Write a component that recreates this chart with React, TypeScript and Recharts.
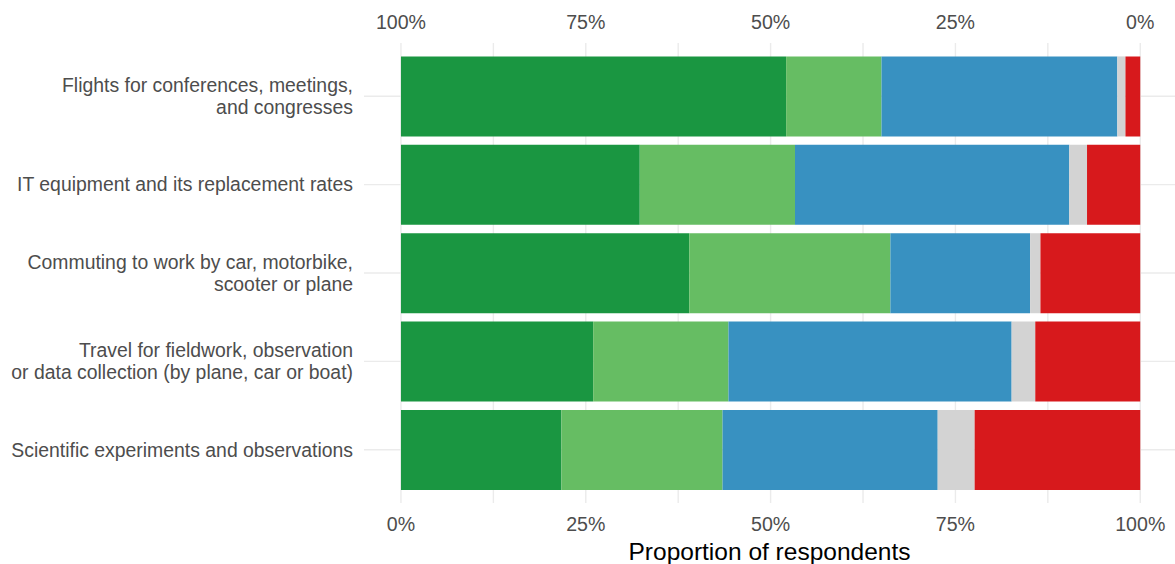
import { BarChart, Bar, XAxis, YAxis, CartesianGrid } from 'recharts';

const categories = [
  'Flights for conferences, meetings,\nand congresses',
  'IT equipment and its replacement rates',
  'Commuting to work by car, motorbike,\nscooter or plane',
  'Travel for fieldwork, observation\nor data collection (by plane, car or boat)',
  'Scientific experiments and observations',
];

// shares per response level, left to right in each bar
const level1 = [0.521, 0.323, 0.39, 0.26, 0.217];
const level2 = [0.129, 0.21, 0.272, 0.183, 0.218];
const level3 = [0.319, 0.371, 0.189, 0.383, 0.291];
const level4 = [0.011, 0.024, 0.014, 0.032, 0.05];
const level5 = [0.02, 0.072, 0.135, 0.142, 0.224];

const bottomTicks = [0, 0.125, 0.25, 0.375, 0.5, 0.625, 0.75, 0.875, 1];
const topTicks = [0, 0.25, 0.5, 0.75, 1];

const colors = ['#1a9641', '#66bd63', '#3891c1', '#d3d3d3', '#d7191c'];

const data = categories.map((name, i) => ({
  name,
  level1: level1[i],
  level2: level2[i],
  level3: level3[i],
  level4: level4[i],
  level5: level5[i],
}));

const FONT = '"Liberation Sans", Arial, sans-serif';
const pct = (v: number) => `${Math.round(v * 100)}%`;

const CategoryTick = ({ x, y, payload }: any) => {
  const lines = String(payload.value).split('\n');
  const lh = 22;
  const start = -((lines.length - 1) * lh) / 2;
  return (
    <text x={x} y={y} textAnchor="end" fill="#4d4d4d" fontSize={19.4} fontFamily={FONT}>
      {lines.map((l, i) => (
        <tspan key={i} x={x} dy={i === 0 ? start + 6.8 : lh}>
          {l}
        </tspan>
      ))}
    </text>
  );
};

const BottomTick = ({ x, y, payload }: any) => {
  const v = payload.value;
  if (Math.abs((v * 4) % 1) > 1e-6) return null;
  return (
    <text x={x} y={y} dy={28} textAnchor="middle" fill="#4d4d4d" fontSize={19.6} fontFamily={FONT}>
      {pct(v)}
    </text>
  );
};

// top axis is reversed, so 100% sits over the left end of the bars
const TopTick = ({ x, y, payload }: any) => (
  <text x={x} y={y} dy={-14} textAnchor="middle" fill="#4d4d4d" fontSize={19.6} fontFamily={FONT}>
    {pct(payload.value)}
  </text>
);

export default function App() {
  return (
    <div style={{ position: 'absolute', left: 0, top: 0, background: '#fff' }}>
      <BarChart
        width={1175}
        height={564}
        data={data}
        layout="vertical"
        barCategoryGap="5%"
        margin={{ top: 0, right: 0, bottom: 0, left: 0 }}
        style={{ fontFamily: FONT }}
      >
        <CartesianGrid xAxisId="bottom" stroke="#ebebeb" strokeWidth={1.4} syncWithTicks />
        <XAxis
          xAxisId="top"
          orientation="top"
          type="number"
          domain={[-0.047, 1.05]}
          ticks={topTicks}
          allowDataOverflow
          reversed
          height={43}
          axisLine={false}
          tickLine={false}
          tickSize={0}
          tickMargin={0}
          tick={<TopTick />}
        />
        <XAxis
          xAxisId="bottom"
          orientation="bottom"
          type="number"
          domain={[-0.05, 1.047]}
          ticks={bottomTicks}
          allowDataOverflow
          height={61}
          axisLine={false}
          tickLine={false}
          tickSize={0}
          tickMargin={0}
          tick={<BottomTick />}
          label={{
            value: 'Proportion of respondents',
            position: 'insideBottom',
            offset: 4,
            fill: '#000',
            fontSize: 24.5,
            fontFamily: FONT,
          }}
        />
        <YAxis
          type="category"
          dataKey="name"
          width={364}
          padding={{ top: 9, bottom: 9 }}
          axisLine={false}
          tickLine={false}
          tickSize={0}
          tickMargin={11}
          interval={0}
          tick={<CategoryTick />}
        />
        <Bar xAxisId="bottom" dataKey="level1" stackId="a" fill={colors[0]} isAnimationActive={false} />
        <Bar xAxisId="bottom" dataKey="level2" stackId="a" fill={colors[1]} isAnimationActive={false} />
        <Bar xAxisId="bottom" dataKey="level3" stackId="a" fill={colors[2]} isAnimationActive={false} />
        <Bar xAxisId="bottom" dataKey="level4" stackId="a" fill={colors[3]} isAnimationActive={false} />
        <Bar xAxisId="bottom" dataKey="level5" stackId="a" fill={colors[4]} isAnimationActive={false} />
      </BarChart>
    </div>
  );
}
